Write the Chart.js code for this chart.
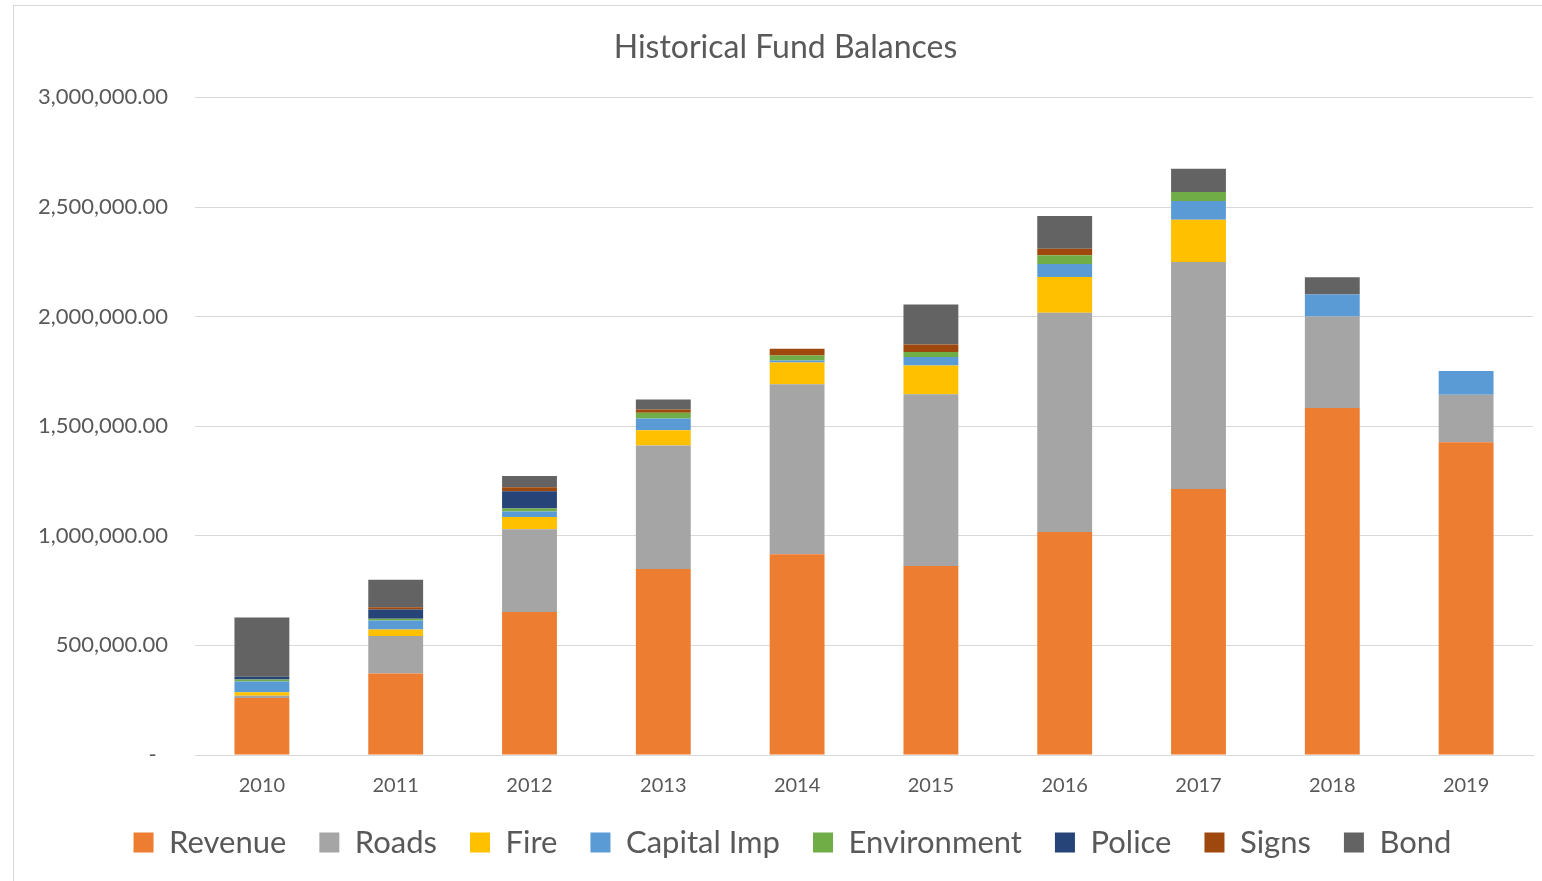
<!DOCTYPE html>
<html>
<head>
<meta charset="utf-8">
<script src="https://cdn.jsdelivr.net/npm/chart.js@4"></script>
<style>
  body { margin: 0; background: #fff; }
  #wrap {
    position: absolute; left: 13px; top: 5px;
    width: 1535px; height: 880px;
    border: 1px solid #d9d9d9; background: #fff;
  }
</style>
</head>
<body>
<div id="wrap"><canvas id="myChart"></canvas></div>
<script>
const years = ["2010", "2011", "2012", "2013", "2014", "2015", "2016", "2017", "2018", "2019"];

const revenue     = [260000, 372000, 652000, 848000, 916000, 862000, 1017000, 1213000, 1583000, 1427000];
const roads       = [10000, 171000, 378000, 564000, 775000, 784000, 1000000, 1036000, 418000, 217000];
const fire        = [16000, 30000, 56000, 70000, 100000, 131000, 164000, 193000, 0, 0];
const capitalImp  = [49000, 41000, 25000, 53000, 9000, 39000, 59000, 85000, 100000, 108000];
const environment = [10000, 8000, 14000, 26000, 23000, 23000, 40000, 41000, 0, 0];
const police      = [12000, 42000, 78000, 0, 0, 0, 0, 0, 0, 0];
const signs       = [0, 10000, 18000, 15000, 30000, 34000, 30000, 0, 0, 0];
const bond        = [270000, 125000, 52000, 46000, 0, 182000, 149000, 107000, 79000, 0];

const seriesNames = ["Revenue", "Roads", "Fire", "Capital Imp", "Environment", "Police", "Signs", "Bond"];
const seriesData = [revenue, roads, fire, capitalImp, environment, police, signs, bond];
const seriesColors = ["#ED7D31", "#A5A5A5", "#FFC000", "#5B9BD5", "#70AD47", "#264478", "#9E480E", "#636363"];

const textColor = "#595959";
const fontFamily = "Lato, 'Open Sans', sans-serif";

// nudge title and legend a little, like the excel layout
const shiftBoxes = {
  id: "shiftBoxes",
  afterLayout: function (chart) {
    chart.legend.left += 19;
    chart.legend.right += 19;
    chart.legend.top -= 5;
    chart.legend.bottom -= 5;
    chart.titleBlock.left += 12;
    chart.titleBlock.right += 12;
  },
};

const ctx = document.getElementById("myChart").getContext("2d");
const myChart = new Chart(ctx, {
  type: "bar",
  data: {
    labels: years,
    datasets: seriesNames.map(function (name, i) {
      return {
        label: name,
        data: seriesData[i],
        backgroundColor: seriesColors[i],
        borderWidth: 0,
        categoryPercentage: 1,
        barPercentage: 0.41,
      };
    }),
  },
  plugins: [shiftBoxes],
  options: {
    responsive: true,
    maintainAspectRatio: false,
    animation: false,
    layout: {
      padding: { left: 0, right: 16, top: 10, bottom: 13 },
    },
    plugins: {
      title: {
        display: true,
        text: "Historical Fund Balances",
        color: textColor,
        font: { family: fontFamily, size: 32, weight: "normal" },
        padding: { top: 12, bottom: 31 },
      },
      legend: {
        position: "bottom",
        labels: {
          color: textColor,
          font: { family: fontFamily, size: 31 },
          boxWidth: 20,
          boxHeight: 20,
          padding: 33,
        },
      },
      tooltip: { enabled: false },
    },
    scales: {
      x: {
        stacked: true,
        grid: { display: false },
        border: { color: "#d9d9d9" },
        afterFit: function (scale) {
          scale.height = 44;
        },
        ticks: {
          color: textColor,
          font: { family: fontFamily, size: 20 },
          padding: 11,
        },
      },
      y: {
        stacked: true,
        min: 0,
        max: 3000000,
        grid: { color: "#d9d9d9", drawTicks: false },
        border: { display: false },
        afterFit: function (scale) {
          scale.width = 181;
        },
        ticks: {
          stepSize: 500000,
          color: textColor,
          font: { family: fontFamily, size: 22 },
          padding: 27,
          callback: function (value) {
            if (value === 0) return "-  ";
            return value.toLocaleString("en-US", { minimumFractionDigits: 2, maximumFractionDigits: 2 });
          },
        },
      },
    },
  },
});
</script>
</body>
</html>
